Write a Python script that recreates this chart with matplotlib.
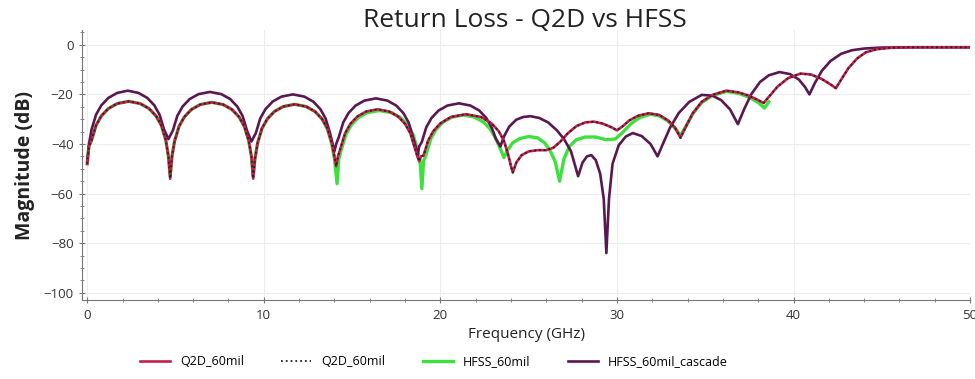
import numpy as np
import matplotlib
matplotlib.use('Agg')
import matplotlib.pyplot as plt
from matplotlib.ticker import MultipleLocator

plt.rcParams['font.family'] = ['Open Sans', 'DejaVu Sans']

# Q2D_60mil (solid red, dotted black on top)
f_q2d = [0, 0.1, 0.25, 0.5, 0.8, 1.2, 1.7, 2.35, 3.0, 3.5, 3.9, 4.2, 4.45, 4.6, 4.7,
         4.8, 4.95, 5.2, 5.5, 5.9, 6.4, 7.05, 7.7, 8.2, 8.6, 8.9, 9.15, 9.3, 9.4,
         9.5, 9.65, 9.9, 10.2, 10.6, 11.1, 11.75, 12.4, 12.9, 13.3, 13.6, 13.85, 14.0, 14.1,
         14.2, 14.35, 14.6, 14.9, 15.3, 15.8, 16.45, 17.1, 17.6, 18.0, 18.3, 18.55, 18.7, 18.8,
         18.9, 19.05, 19.3, 19.6, 20.0, 20.6, 21.45, 22.3, 22.9, 23.3, 23.6, 23.85, 24.0, 24.1,
         24.3, 24.6, 25.0, 25.5, 26.0, 26.4, 26.8, 27.2, 27.7, 28.2, 28.7, 29.2, 29.7, 30.0,
         30.3, 30.7, 31.2, 31.8, 32.4, 32.9, 33.3, 33.6, 33.9, 34.3, 34.8, 35.4, 36.2, 36.9,
         37.5, 38.0, 38.3, 38.6, 39.1, 39.7, 40.4, 41.0, 41.6, 42.1, 42.4, 42.7, 43.1, 43.6,
         44.1, 44.7, 45.5, 46.5, 50.0]
db_q2d = [-48, -41, -38.4, -32.5, -28.7, -25.7, -23.7, -22.8, -23.7, -25.7, -28.7, -32.5, -38.4, -45, -54,
          -45, -38.8, -32.9, -29.1, -26.1, -24.1, -23.2, -24.1, -26.1, -29.1, -32.9, -38.8, -45, -54,
          -46, -39.6, -33.7, -29.9, -26.9, -24.9, -24, -24.9, -26.9, -29.9, -33.7, -39.6, -45, -49,
          -45, -41.6, -35.7, -31.9, -28.9, -26.9, -26, -26.9, -28.9, -31.9, -35.7, -41.6, -45, -47,
          -45, -44.6, -38.7, -34.8, -31.7, -29.1, -28, -29.1, -31.7, -34.8, -38.7, -44.6, -49, -51.5,
          -47.5, -44.5, -43, -42.5, -42.5, -41.5, -39, -35.8, -32.8, -31.3, -31, -31.8, -33.3, -34.5,
          -33, -30.5, -28.6, -27.6, -28.3, -30.5, -33.5, -37.5, -33, -27.5, -23, -20.2, -18.5, -19.2,
          -20.6, -22.3, -23.5, -21, -16.8, -13.4, -11.6, -12, -13.8, -16, -17.5, -14, -9.5, -5.5,
          -3, -1.8, -1.2, -1, -1]

# HFSS_60mil (green)
f_hfss = [0, 0.1, 0.25, 0.5, 0.8, 1.2, 1.7, 2.35, 3.0, 3.5, 3.9, 4.2, 4.45, 4.6, 4.7,
          4.8, 4.95, 5.2, 5.5, 5.9, 6.4, 7.05, 7.7, 8.2, 8.6, 8.9, 9.15, 9.3, 9.4,
          9.5, 9.65, 9.9, 10.2, 10.6, 11.1, 11.75, 12.4, 12.9, 13.3, 13.6, 13.85, 14.0, 14.15,
          14.25, 14.4, 14.65, 14.95, 15.35, 15.85, 16.55, 17.25, 17.75, 18.15, 18.45, 18.7, 18.85, 18.95,
          19.05, 19.2, 19.45, 19.75, 20.15, 20.65, 21.3, 21.95, 22.45, 22.85, 23.15, 23.4, 23.6,
          23.8, 24.1, 24.5, 25.0, 25.5, 25.9, 26.2, 26.5, 26.75, 27.0, 27.3, 27.7, 28.2, 28.8,
          29.4, 29.9, 30.3, 30.8, 31.3, 31.9, 32.4, 32.9, 33.3, 33.6, 33.9, 34.3, 34.8, 35.4,
          36.2, 36.9, 37.5, 38.0, 38.35, 38.6]
db_hfss = [-48, -41, -38.4, -32.5, -28.7, -25.7, -23.7, -22.8, -23.7, -25.7, -28.7, -32.5, -38.4, -45, -53,
           -45, -38.8, -32.9, -29.1, -26.1, -24.1, -23.2, -24.1, -26.1, -29.1, -32.9, -38.8, -45, -53,
           -46, -39.6, -33.7, -29.9, -26.9, -24.9, -24, -24.9, -26.9, -29.9, -34, -40, -46, -56,
           -46, -42, -36.2, -32.4, -29.4, -27.4, -26.5, -27.4, -29.4, -32.4, -36.2, -42, -47, -58,
           -47, -44, -38, -34.2, -31.2, -29.2, -28.3, -29.2, -31.2, -34.2, -38, -42, -45.5,
           -42.5, -39.5, -37.8, -37, -37.5, -39.5, -42.5, -47, -55, -46, -41, -38.3, -37.2, -37.2,
           -38.3, -38, -35.5, -31.8, -29.3, -28, -28.7, -30.8, -33.8, -36.5, -33, -27.8, -23.3, -20.5,
           -18.8, -19.6, -21.2, -23.3, -25.5, -23]

# HFSS_60mil_cascade (dark purple)
f_cas = [0, 0.1, 0.25, 0.5, 0.8, 1.2, 1.7, 2.3, 2.9, 3.4, 3.8, 4.1, 4.35, 4.6,
         4.85, 5.1, 5.4, 5.8, 6.3, 6.95, 7.6, 8.1, 8.5, 8.8, 9.05, 9.3,
         9.55, 9.8, 10.1, 10.5, 11.0, 11.65, 12.3, 12.8, 13.2, 13.5, 13.75, 13.9, 14.0,
         14.1, 14.25, 14.5, 14.8, 15.2, 15.7, 16.35, 17.0, 17.5, 17.9, 18.2, 18.45, 18.6, 18.7,
         18.8, 18.95, 19.2, 19.5, 19.9, 20.4, 21.05, 21.7, 22.2, 22.6, 22.9, 23.15, 23.4,
         23.6, 23.9, 24.3, 24.7, 25.1, 25.6, 26.1, 26.6, 27.0, 27.4, 27.8, 28.05, 28.3, 28.55,
         28.8, 29.05, 29.25, 29.4, 29.55, 29.75, 30.1, 30.5, 30.9, 31.4, 31.9, 32.3, 32.6, 33.0,
         33.5, 34.1, 34.8, 35.4, 35.9, 36.4, 36.85, 37.2, 37.6, 38.1, 38.6, 39.2, 39.8, 40.3,
         40.65, 40.9, 41.2, 41.6, 42.1, 42.7, 43.3, 44.0, 45.0, 47.0, 50.0]
db_cas = [-47, -40, -34.1, -28.2, -24.4, -21.4, -19.4, -18.5, -19.4, -21.4, -24.4, -28.2, -34.1, -38,
          -34.6, -28.7, -24.9, -21.9, -19.9, -19, -19.9, -21.9, -24.9, -28.7, -34.6, -39,
          -35.6, -29.7, -25.9, -22.9, -20.9, -20, -20.9, -22.9, -25.9, -29.7, -35.6, -40, -43,
          -40, -37.2, -31.3, -27.5, -24.5, -22.5, -21.6, -22.5, -24.5, -27.5, -31.3, -37.2, -41, -45,
          -41, -39.2, -33.3, -29.5, -26.5, -24.5, -23.6, -24.5, -26.5, -29.5, -33.3, -38, -41,
          -37, -33, -30.2, -29.1, -28.8, -29.5, -31.3, -34.5, -38, -43, -53, -47.5, -45, -44.5,
          -46.5, -52, -62, -84, -62, -48, -40.5, -37, -35.6, -36.8, -40, -45, -40, -33.5,
          -27.5, -23, -20.2, -20.5, -22.3, -26, -32, -26, -20, -15, -12.3, -11, -11.8, -14,
          -17, -20, -15.5, -10.5, -6.5, -3.6, -2.2, -1.5, -1.1, -1, -1]

fig = plt.figure(figsize=(9.75, 3.79), dpi=100)
ax = fig.add_axes([0.084, 0.208, 0.911, 0.713])

ax.plot(f_hfss, db_hfss, color='#3ee03e', lw=2.4, label='HFSS_60mil', zorder=2)
ax.plot(f_cas, db_cas, color='#5a1850', lw=1.9, label='HFSS_60mil_cascade', zorder=3)
ax.plot(f_q2d, db_q2d, color='#c41e4a', lw=1.9, label='Q2D_60mil', zorder=4)
ax.plot(f_q2d, db_q2d, color='#222222', lw=1.3, ls=':', label='Q2D_60mil', zorder=5)

ax.set_xlim(-0.3, 50)
ax.set_ylim(-103, 6)
ax.xaxis.set_major_locator(MultipleLocator(10))
ax.xaxis.set_minor_locator(MultipleLocator(2))
ax.yaxis.set_minor_locator(MultipleLocator(5))
ax.set_yticks([0, -20, -40, -60, -80, -100])
ax.grid(True, which='major', color='#ededed', lw=0.8)
ax.set_axisbelow(True)
for s in ['top', 'right']:
    ax.spines[s].set_visible(False)
for s in ['left', 'bottom']:
    ax.spines[s].set_color('#777777')
ax.tick_params(which='both', colors='#777777', labelcolor='#333333', labelsize=9.5, direction='inout')
ax.tick_params(which='minor', length=3)
ax.tick_params(which='major', length=5)

fig.text(0.538, 0.947, 'Return Loss - Q2D vs HFSS', fontsize=19, color='#222222',
         ha='center', va='center')
ax.set_xlabel('Frequency (GHz)', fontsize=11, color='#222222', labelpad=4)
ax.set_ylabel('Magnitude (dB)', fontsize=14, fontweight='bold', color='#222222', labelpad=6)

h, l = ax.get_legend_handles_labels()
order = [2, 3, 0, 1]
fig.legend([h[i] for i in order], [l[i] for i in order], loc='center', ncol=4,
           bbox_to_anchor=(0.445, 0.045), frameon=False, fontsize=9,
           handlelength=2.4, columnspacing=3.0)

plt.savefig('out.png', dpi=100)
